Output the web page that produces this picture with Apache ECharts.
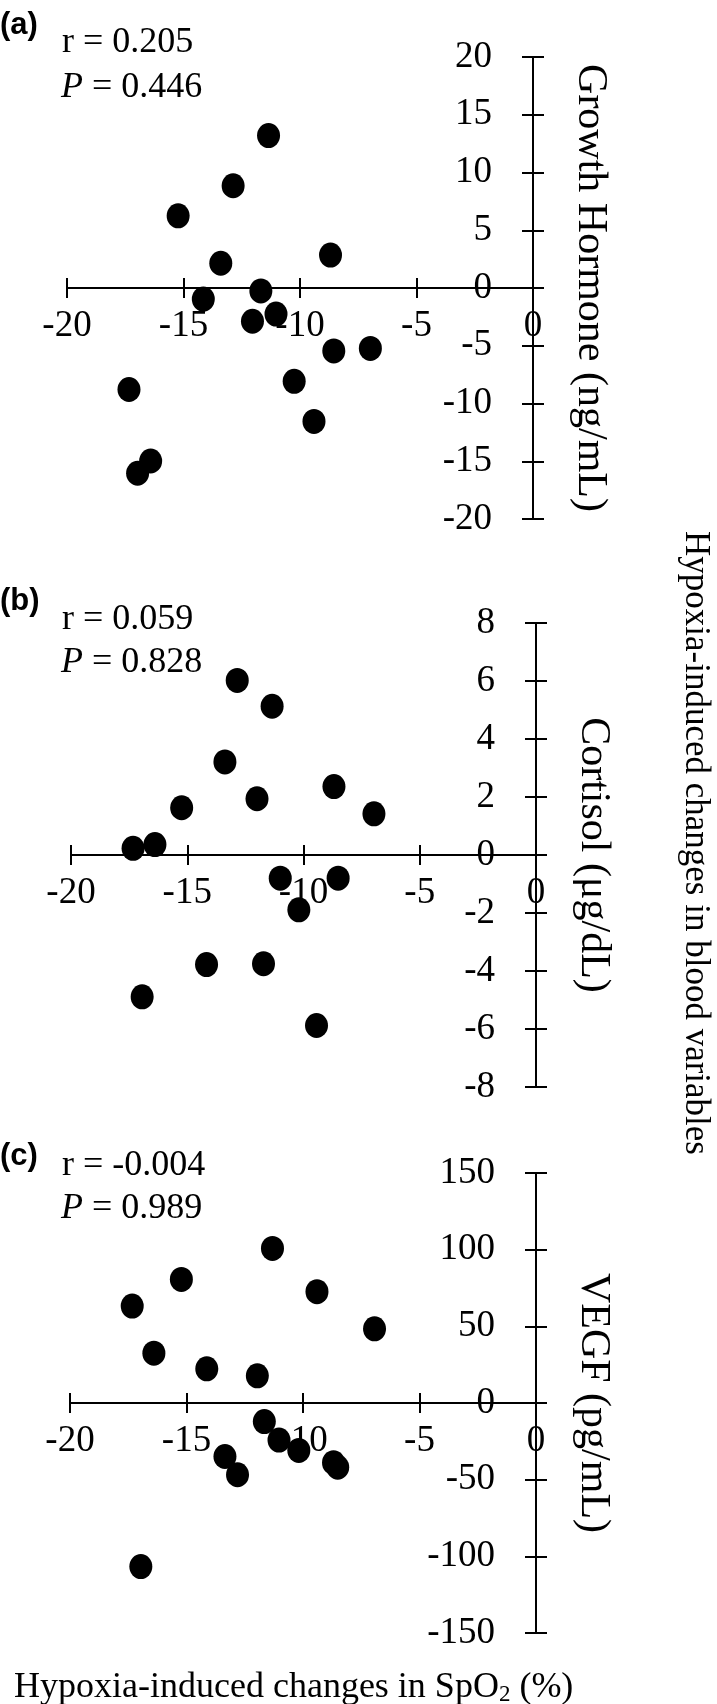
<!DOCTYPE html>
<html>
<head>
<meta charset="utf-8">
<script src="https://cdn.jsdelivr.net/npm/echarts@6/dist/echarts.min.js"></script>
<style>
  html, body { margin: 0; padding: 0; background: #fff; }
  #main { width: 717px; height: 1704px; }
</style>
</head>
<body>
<div id="main"></div>
<script>
// x: hypoxia-induced change in SpO2 (%), y: change in each blood variable
var ghX = [-11.35, -12.87, -15.23, -13.40, -8.69, -14.15, -11.68, -11.03, -12.04, -8.55, -6.98, -10.25, -17.34, -9.40, -16.41, -16.97];
var ghY = [13.2, 8.85, 6.25, 2.14, 2.85, -0.96, -0.25, -2.26, -2.88, -5.45, -5.23, -8.08, -8.79, -11.55, -14.98, -16.04];

var cortX = [-12.85, -11.35, -13.38, -8.69, -12.00, -15.24, -6.97, -17.33, -16.39, -11.00, -8.51, -10.20, -14.17, -11.72, -16.94, -9.44];
var cortY = [6.02, 5.13, 3.21, 2.36, 1.94, 1.63, 1.42, 0.23, 0.36, -0.80, -0.80, -1.89, -3.78, -3.75, -4.89, -5.88];

var vegfX = [-11.31, -15.22, -9.40, -17.33, -6.93, -16.40, -14.13, -11.96, -11.66, -11.03, -10.18, -13.35, -12.81, -8.69, -8.51, -16.96];
var vegfY = [100.8, 80.6, 72.6, 63.2, 48.4, 32.5, 22.3, 17.7, -12.1, -24.2, -30.9, -34.9, -46.8, -38.9, -41.9, -106.7];

var panelLetters = ['(a)', '(b)', '(c)'];
var rTexts = ['r = 0.205', 'r = 0.059', 'r = -0.004'];
var pTexts = ['0.446', '0.828', '0.989'];
var yNames = ['Growth Hormone (ng/mL)', 'Cortisol (\u03bcg/dL)', 'VEGF (pg/mL)'];
var yMin = [-20, -8, -150];
var yMax = [20, 8, 150];
var yStep = [5, 2, 50];
var xMin = -20, xMax = 0, xStep = 5;

var chartDom = document.getElementById('main');
var myChart = echarts.init(chartDom);
var option;

var serif = '"Liberation Serif", "Times New Roman", serif';
var ink = '#000';

// grid boxes (left, top, width, height)
var grids = [
    {left: 67, top: 57, width: 466, height: 462},
    {left: 71, top: 623, width: 465, height: 464},
    {left: 70, top: 1173, width: 466, height: 460}
];
// text anchors per panel: letter centre y, r line middle, P line middle
var letterY = [25, 601, 1156];
var rY = [43, 620, 1166];
var pY = [88, 663, 1209];

var xAxes = [], yAxes = [], series = [], graphics = [];
var pts = [[ghX, ghY], [cortX, cortY], [vegfX, vegfY]];

grids.forEach(function(g, i) {
    // x axis sits on y = 0: shift it up from the grid bottom
    var zeroShift = -g.height * (0 - yMin[i]) / (yMax[i] - yMin[i]);
    // main x axis (ticks down) + twin (ticks up) -> crossing ticks
    xAxes.push({
        gridIndex: i, type: 'value', min: xMin, max: xMax, interval: xStep,
        position: 'bottom', offset: zeroShift,
        axisLine: {onZero: false, lineStyle: {color: ink, width: 2}},
        axisTick: {length: 10, lineStyle: {color: ink, width: 2}},
        axisLabel: {margin: 20, color: ink, fontFamily: serif, fontSize: 37},
        splitLine: {show: false}
    });
    xAxes.push({
        gridIndex: i, type: 'value', min: xMin, max: xMax, interval: xStep,
        position: 'bottom', offset: zeroShift,
        axisLine: {onZero: false, show: false},
        axisTick: {inside: true, length: 10, lineStyle: {color: ink, width: 2}},
        axisLabel: {show: false},
        splitLine: {show: false}
    });
    yAxes.push({
        gridIndex: i, type: 'value', position: 'right',
        min: yMin[i], max: yMax[i], interval: yStep[i],
        name: yNames[i], nameLocation: 'middle', nameRotate: -90, nameGap: 36,
        nameTextStyle: {color: ink, fontFamily: serif, fontSize: 42},
        axisLine: {onZero: false, lineStyle: {color: ink, width: 2}},
        axisTick: {length: 11, lineStyle: {color: ink, width: 2}},
        axisLabel: {inside: true, margin: 41, color: ink, fontFamily: serif, fontSize: 37},
        splitLine: {show: false}
    });
    yAxes.push({
        gridIndex: i, type: 'value', position: 'right',
        min: yMin[i], max: yMax[i], interval: yStep[i],
        axisLine: {onZero: false, show: false},
        axisTick: {inside: true, length: 11, lineStyle: {color: ink, width: 2}},
        axisLabel: {show: false},
        splitLine: {show: false}
    });

    series.push({
        type: 'scatter',
        xAxisIndex: i * 2,
        yAxisIndex: i * 2,
        symbol: 'circle',
        symbolSize: [23, 25],
        itemStyle: {color: ink, opacity: 1},
        data: pts[i][0].map(function(x, k) { return [x, pts[i][1][k]]; }),
        z: 5
    });

    graphics.push({
        type: 'text', x: 0, y: letterY[i],
        style: {text: panelLetters[i], fill: ink, font: 'bold 31px "Liberation Sans", Arial, sans-serif', verticalAlign: 'middle'}
    });
    graphics.push({
        type: 'text', x: 62, y: rY[i],
        style: {text: rTexts[i], fill: ink, font: '36px ' + serif, verticalAlign: 'middle'}
    });
    graphics.push({
        type: 'text', x: 61, y: pY[i],
        style: {
            text: '{i|P} = ' + pTexts[i], fill: ink, font: '36px ' + serif, verticalAlign: 'middle',
            rich: {i: {fontStyle: 'italic', fontFamily: serif, fontSize: 36}}
        }
    });
});

// shared axis titles
graphics.push({
    type: 'text', x: 14, y: 1688,
    style: {
        text: 'Hypoxia-induced changes in SpO{s|2} (%)',
        fill: ink, font: '36px ' + serif, verticalAlign: 'middle',
        rich: {s: {fontSize: 23, fontFamily: serif, verticalAlign: 'bottom', padding: [14, 0, 0, 0]}}
    }
});
graphics.push({
    type: 'text', x: 695, y: 843, rotation: -Math.PI / 2,
    style: {
        text: 'Hypoxia-induced changes in blood variables',
        fill: ink, font: '35px ' + serif, align: 'center', verticalAlign: 'middle'
    }
});

option = {
    backgroundColor: '#fff',
    animation: false,
    grid: grids,
    xAxis: xAxes,
    yAxis: yAxes,
    series: series,
    graphic: graphics
};

option && myChart.setOption(option);

window.addEventListener('resize', myChart.resize);
</script>
</body>
</html>
